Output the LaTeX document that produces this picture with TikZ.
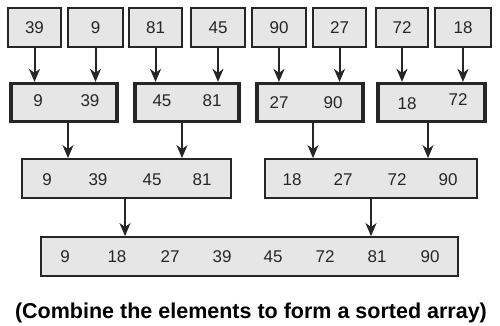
\documentclass[tikz,border=0pt]{standalone}
\usepackage{fontspec}
\setmainfont{Liberation Sans}
\usetikzlibrary{arrows.meta}
\definecolor{boxfill}{HTML}{E6E6E6}
\definecolor{ink}{HTML}{262626}
\tikzset{
  cell/.style={draw=ink, fill=boxfill, line width=2.2pt, inner sep=0pt, minimum height=39pt},
  pair/.style={draw=ink, fill=boxfill, line width=3.2pt, inner sep=0pt, minimum height=38pt},
  quad/.style={draw=ink, fill=boxfill, line width=1.8pt, inner sep=0pt, minimum height=39pt},
  num/.style={text=ink, font=\fontsize{17}{17}\selectfont, inner sep=0pt},
  arr/.style={draw=ink, line width=2pt, -{Stealth[length=13pt,width=11pt,inset=4pt]}},
  caption/.style={text=black, font=\bfseries\fontsize{21.5}{22}\selectfont, inner sep=0pt}
}
\begin{document}
\begin{tikzpicture}[x=1pt,y=-1pt]
\useasboundingbox[fill=white] (0,0) rectangle (500,326);
% top row
\node[cell, minimum width=53pt] (t1) at (34.5,27.5) {};
\node[cell, minimum width=55pt] (t2) at (95.5,27.5) {};
\node[cell, minimum width=53pt] (t3) at (155.5,27.5) {};
\node[cell, minimum width=54pt] (t4) at (218,27.5) {};
\node[cell, minimum width=54pt] (t5) at (279,27.5) {};
\node[cell, minimum width=53pt] (t6) at (339.5,27.5) {};
\node[cell, minimum width=52pt] (t7) at (402,27.5) {};
\node[cell, minimum width=56pt] (t8) at (463,27.5) {};
\node[num] (n1) at (t1) {39};
\node[num] (n2) at (t2) {9};
\node[num] (n3) at (t3) {81};
\node[num] (n4) at (t4) {45};
\node[num] (n5) at (t5) {90};
\node[num] (n6) at (t6) {27};
\node[num] (n7) at (t7) {72};
\node[num] (n8) at (t8) {18};
% second row
\node[pair, minimum width=106pt] (p1) at (64,102.5) {};
\node[pair, minimum width=104pt] (p2) at (187,102.5) {};
\node[pair, minimum width=106pt] (p3) at (310,102.5) {};
\node[pair, minimum width=107pt] (p4) at (431.5,102.5) {};
\node[num] (m1) at (38,101) {9};
\node[num] (m2) at (90,101) {39};
\node[num] (m3) at (162,101) {45};
\node[num] (m4) at (212,101) {81};
\node[num] (m5) at (279,103) {27};
\node[num] (m6) at (333,103) {90};
\node[num] (m7) at (407,104) {18};
\node[num] (m8) at (458,100) {72};
% third row
\node[quad, minimum width=209pt] (q1) at (126.5,178.5) {};
\node[quad, minimum width=212pt] (q2) at (371,178.5) {};
\node[num] (r1) at (47,180) {9};
\node[num] (r2) at (98,180) {39};
\node[num] (r3) at (152,180) {45};
\node[num] (r4) at (202,180) {81};
\node[num] (r5) at (292,180) {18};
\node[num] (r6) at (343,180) {27};
\node[num] (r7) at (397,180) {72};
\node[num] (r8) at (448,180) {90};
% bottom row
\node[quad, minimum width=417pt] (f) at (249.5,256.5) {};
\node[num] (s1) at (65,257) {9};
\node[num] (s2) at (117,257) {18};
\node[num] (s3) at (170,257) {27};
\node[num] (s4) at (222,257) {39};
\node[num] (s5) at (273,257) {45};
\node[num] (s6) at (325,257) {72};
\node[num] (s7) at (377,257) {81};
\node[num] (s8) at (430,257) {90};
% arrows
\draw[arr] (t1.south) -- (t1.south |- p1.north);
\draw[arr] (t2.south) -- (t2.south |- p1.north);
\draw[arr] (t3.south) -- (t3.south |- p2.north);
\draw[arr] (t4.south) -- (t4.south |- p2.north);
\draw[arr] (t5.south) -- (t5.south |- p3.north);
\draw[arr] (t6.south) -- (t6.south |- p3.north);
\draw[arr] (t7.south) -- (t7.south |- p4.north);
\draw[arr] (t8.south) -- (t8.south |- p4.north);
\draw[arr] (p1.south -| 68,0) -- (q1.north -| 68,0);
\draw[arr] (p2.south -| 182,0) -- (q1.north -| 182,0);
\draw[arr] (p3.south -| 313,0) -- (q2.north -| 313,0);
\draw[arr] (p4.south -| 428,0) -- (q2.north -| 428,0);
\draw[arr] (q1.south -| 125,0) -- (f.north -| 125,0);
\draw[arr] (q2.south -| 371,0) -- (f.north -| 371,0);
% caption
\node[caption] (cap) at (251,313) {(Combine the elements to form a sorted array)};
\end{tikzpicture}
\end{document}
